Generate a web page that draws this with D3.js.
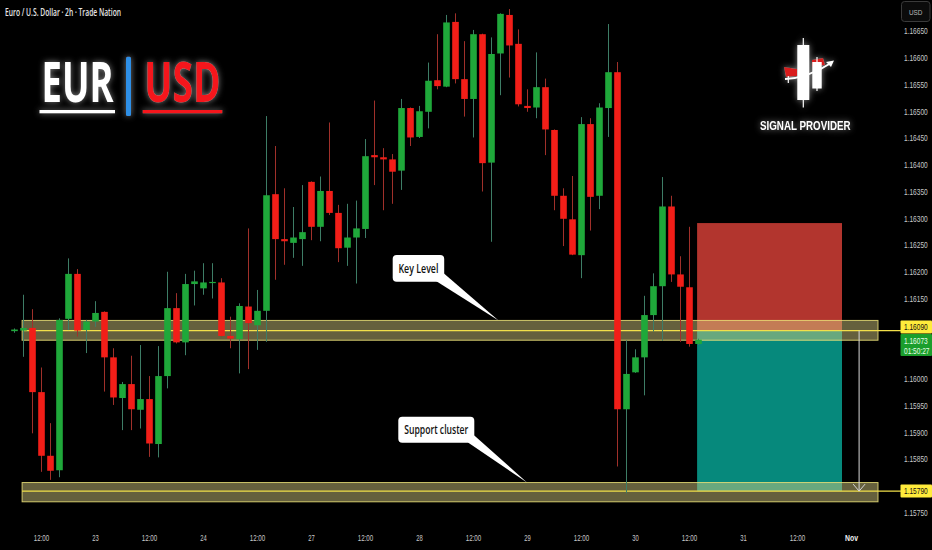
<!DOCTYPE html>
<html><head><meta charset="utf-8">
<script src="https://cdn.jsdelivr.net/npm/d3@7"></script>
<style>
html,body{margin:0;padding:0;background:#000;overflow:hidden;}
svg{display:block;}
</style></head><body>
<svg id="c" width="932" height="550"></svg>
<script>
// ---------- DATA ----------
const firstBar = -3; // bar index of first candle (0 = 22 Oct 12:00, 2h bars)
const opens = [1.16089,1.16090,1.16095,1.15975,1.15856,1.15829,1.16112,1.16196,1.16091,1.16107,1.16125,1.16040,1.15964,1.15990,1.15942,1.15962,1.15878,1.16005,1.16132,1.16068,1.16177,1.16169,1.16180,1.16180,1.16080,1.16074,1.16135,1.16100,1.16127,1.16345,1.16261,1.16254,1.16261,1.16368,1.16284,1.16351,1.16310,1.16245,1.16264,1.16280,1.16418,1.16414,1.16410,1.16389,1.16506,1.16452,1.16499,1.16558,1.16546,1.16667,1.16560,1.16523,1.16644,1.16404,1.16608,1.16680,1.16626,1.16510,1.16507,1.16545,1.16465,1.16342,1.16298,1.16231,1.16476,1.16342,1.16506,1.16573,1.15943,1.16012,1.16040,1.16119,1.16173,1.16322,1.16195,1.16171,1.16065];
const highs = [1.16094,1.16157,1.16130,1.16021,1.15917,1.16113,1.16225,1.16205,1.16110,1.16145,1.16126,1.16057,1.15994,1.16043,1.16063,1.16005,1.16061,1.16200,1.16160,1.16196,1.16202,1.16216,1.16216,1.16188,1.16116,1.16141,1.16281,1.16166,1.16491,1.16435,1.16356,1.16321,1.16362,1.16369,1.16378,1.16479,1.16325,1.16327,1.16333,1.16448,1.16520,1.16431,1.16420,1.16523,1.16507,1.16510,1.16591,1.16644,1.16680,1.16683,1.16631,1.16652,1.16645,1.16638,1.16683,1.16691,1.16653,1.16541,1.16610,1.16561,1.16466,1.16356,1.16379,1.16489,1.16487,1.16515,1.16663,1.16592,1.16072,1.16055,1.16155,1.16197,1.16377,1.16342,1.16229,1.16284,1.16075];
const lows = [1.16086,1.16041,1.15898,1.15826,1.15811,1.15816,1.16091,1.16079,1.16048,1.16097,1.15976,1.15951,1.15904,1.15904,1.15907,1.15854,1.15853,1.15982,1.16066,1.16044,1.16137,1.16157,1.16150,1.16079,1.16057,1.16010,1.16018,1.16054,1.16069,1.16185,1.16213,1.16226,1.16211,1.16259,1.16257,1.16306,1.16218,1.16211,1.16178,1.16263,1.16362,1.16315,1.16327,1.16353,1.16435,1.16450,1.16468,1.16541,1.16545,1.16552,1.16490,1.16451,1.16350,1.16256,1.16530,1.16563,1.16509,1.16499,1.16487,1.16418,1.16315,1.16248,1.16231,1.16188,1.16277,1.16317,1.16452,1.15836,1.15786,1.16011,1.15969,1.16088,1.16071,1.16181,1.16069,1.16060,1.16063];
const closes = [1.16092,1.16095,1.15975,1.15856,1.15828,1.16110,1.16196,1.16090,1.16107,1.16123,1.16040,1.15965,1.15990,1.15943,1.15962,1.15879,1.16005,1.16132,1.16068,1.16177,1.16182,1.16180,1.16181,1.16080,1.16075,1.16136,1.16104,1.16127,1.16343,1.16261,1.16257,1.16264,1.16274,1.16284,1.16351,1.16310,1.16244,1.16264,1.16281,1.16416,1.16414,1.16410,1.16387,1.16506,1.16451,1.16500,1.16557,1.16547,1.16666,1.16560,1.16523,1.16644,1.16403,1.16607,1.16682,1.16623,1.16513,1.16506,1.16545,1.16466,1.16342,1.16299,1.16232,1.16476,1.16340,1.16507,1.16573,1.15943,1.16009,1.16040,1.16119,1.16173,1.16322,1.16195,1.16172,1.16065,1.16073];

const tickBars = [0,6,12,18,24,30,36,42,48,54,60,66,72,78,84,90];
const tickLabels = ["12:00","23","12:00","24","12:00","27","12:00","28","12:00","29","12:00","30","12:00","31","12:00","Nov"];
const priceTicks = [1.1665,1.1660,1.1655,1.1650,1.1645,1.1640,1.1635,1.1630,1.1625,1.1620,1.1615,1.1600,1.1595,1.1590,1.1585,1.1575];

const keyLevel = 1.16090, keyZone = [1.16109, 1.16072];
const supportLevel = 1.15790, supportZone = [1.15806, 1.15770];
const zoneBars = [-2.1, 93];
const entryPrice = 1.16090, stopPrice = 1.16291, targetPrice = 1.15790;
const positionBars = [72.9, 89];
const arrowBar = 90.9;
const currentPrice = 1.16073, countdown = "01:50:27";
const title = "Euro / U.S. Dollar · 2h · Trade Nation";

// ---------- SCALES ----------
const svg = d3.select("#c");
const x = d3.scaleLinear().domain([0, 90]).range([41, 851]);
const y = d3.scaleLinear().domain([1.1665, 1.1575]).range([31, 512.5]);
const fmt = d3.format(".5f");
const bodyW = 6.6;
const UP = "#1fa83a", DOWN = "#f21e18", WUP = "#3d7d66", WDOWN = "#a0302a";
const AXFONT = "'Liberation Sans',Arial,sans-serif";

const defs = svg.append("defs");
const glow = defs.append("filter").attr("id","glow").attr("x","-40%").attr("y","-40%").attr("width","180%").attr("height","180%");
glow.append("feGaussianBlur").attr("in","SourceAlpha").attr("stdDeviation",3.2).attr("result","b");
glow.append("feFlood").attr("flood-color","#ffffff").attr("flood-opacity",0.5);
glow.append("feComposite").attr("in2","b").attr("operator","in").attr("result","g");
const fm = glow.append("feMerge"); fm.append("feMergeNode").attr("in","g"); fm.append("feMergeNode").attr("in","SourceGraphic");

svg.append("rect").attr("width",932).attr("height",550).attr("fill","#000");

// ---------- POSITION BOX ----------
const pb = svg.append("g");
pb.append("rect").attr("x", x(positionBars[0])).attr("width", x(positionBars[1]) - x(positionBars[0]))
  .attr("y", y(stopPrice)).attr("height", y(entryPrice) - y(stopPrice)).attr("fill", "#b2352e");
pb.append("rect").attr("x", x(positionBars[0])).attr("width", x(positionBars[1]) - x(positionBars[0]))
  .attr("y", y(entryPrice)).attr("height", y(targetPrice) - y(entryPrice)).attr("fill", "#06897c");

// ---------- ZONES ----------
function zone(level, z) {
  const g = svg.append("g");
  g.append("rect").attr("x", x(zoneBars[0])).attr("width", x(zoneBars[1]) - x(zoneBars[0]))
    .attr("y", y(z[0])).attr("height", y(z[1]) - y(z[0]))
    .attr("fill", "rgba(215,205,130,0.47)").attr("stroke", "rgba(235,225,120,0.85)").attr("stroke-width", 1);
  g.append("line").attr("x1", x(zoneBars[0])).attr("x2", 901).attr("y1", y(level)).attr("y2", y(level))
    .attr("stroke", "#f2e04a").attr("stroke-width", 1.4);
}
zone(keyLevel, keyZone);
zone(supportLevel, supportZone);

// arrow
const ax = x(arrowBar);
svg.append("line").attr("x1", ax).attr("x2", ax).attr("y1", y(entryPrice)).attr("y2", y(targetPrice))
  .attr("stroke", "#d8d8d8").attr("stroke-width", 1);
svg.append("path").attr("d", `M${ax-6},${y(targetPrice)-7}L${ax},${y(targetPrice)}L${ax+6},${y(targetPrice)-7}`)
  .attr("fill","none").attr("stroke","#d8d8d8").attr("stroke-width",1);

// ---------- CANDLES ----------
const candles = opens.map((o, k) => ({bar: firstBar + k, o, h: highs[k], l: lows[k], c: closes[k]}));
const cg = svg.append("g");
cg.selectAll("line.w").data(candles).join("line").attr("class","w")
  .attr("x1", d => Math.round(x(d.bar)) + 0.5).attr("x2", d => Math.round(x(d.bar)) + 0.5)
  .attr("y1", d => y(d.h)).attr("y2", d => y(d.l))
  .attr("stroke", d => d.c >= d.o ? WUP : WDOWN).attr("stroke-width", 1);
cg.selectAll("rect.b").data(candles).join("rect").attr("class","b")
  .attr("x", d => Math.round(x(d.bar)) + 0.5 - bodyW/2).attr("width", bodyW)
  .attr("y", d => y(Math.max(d.o, d.c)))
  .attr("height", d => Math.max(1.2, Math.abs(y(d.o) - y(d.c))))
  .attr("fill", d => d.c >= d.o ? UP : DOWN);

// ---------- CALLOUTS ----------
function callout(bx, by, bw, bh, tail, text, tl) {
  const g = svg.append("g");
  g.append("path").attr("d", `M${tail[0][0]},${tail[0][1]}L${tail[1][0]},${tail[1][1]}L${tail[2][0]},${tail[2][1]}Z`).attr("fill", "#fff");
  g.append("rect").attr("x", bx).attr("y", by).attr("width", bw).attr("height", bh).attr("rx", 4).attr("fill", "#fff");
  g.append("text").attr("x", bx + bw/2).attr("y", by + bh/2 + 4.5).attr("text-anchor","middle")
    .attr("font-family","'Open Sans','Liberation Sans Narrow',sans-serif").attr("font-weight",600).attr("font-size",12.5)
    .attr("textLength", tl).attr("lengthAdjust","spacingAndGlyphs").attr("fill","#111").text(text);
}
callout(392.7, 255, 51.5, 26.7, [[436,281],[444,273.5],[498.5, y(keyZone[0])]], "Key Level", 40);
callout(398.3, 416.7, 76, 26, [[468,442.5],[474.3,435.5],[527, y(supportZone[0])]], "Support cluster", 64);

// ---------- AXES ----------
const xAxis = d3.axisBottom(x).tickValues(tickBars).tickSize(0).tickPadding(0)
  .tickFormat((d, i) => tickLabels[i]);
const xg = svg.append("g").attr("transform","translate(0,535)").call(xAxis);
xg.select(".domain").remove();
xg.selectAll("text").attr("fill", (d,i) => tickLabels[i] === "Nov" ? "#f0f0f0" : "#c8c8c8")
  .attr("font-family", AXFONT)
  .attr("font-weight",(d,i) => tickLabels[i] === "Nov" ? 700 : 400)
  .attr("font-size", 9).attr("dy", "0.71em")
  .attr("textLength", (d,i) => tickLabels[i].length <= 2 ? 6.5 : (tickLabels[i] === "Nov" ? 13 : 15.5))
  .attr("lengthAdjust","spacingAndGlyphs");

const yAxis = d3.axisRight(y).tickValues(priceTicks).tickSize(0).tickPadding(0).tickFormat(fmt);
const yg = svg.append("g").attr("transform","translate(904,0)").call(yAxis);
yg.select(".domain").remove();
yg.selectAll("text").attr("fill","#c8c8c8").attr("font-family", AXFONT)
  .attr("font-size", 9).attr("transform","scale(0.73,1)");

// USD box
svg.append("rect").attr("x",901.5).attr("y",1.5).attr("width",28.5).attr("height",20).attr("rx",3)
  .attr("fill","#0b0b0b").attr("stroke","#3a3a3a");
svg.append("text").attr("transform","translate(915.7,15) scale(0.8,1)").attr("text-anchor","middle").attr("fill","#b8b8b8")
  .attr("font-family", AXFONT).attr("font-size",8).text("USD");

// price tags
function tag(y0, h, fill, lines, color) {
  svg.append("rect").attr("x", 900.5).attr("y", y0).attr("width", 31.5).attr("height", h).attr("fill", fill).attr("rx",1);
  lines.forEach((t, i) => svg.append("text")
    .attr("transform", `translate(904,${y0 + 9.5 + i * 10}) scale(0.73,1)`).attr("fill", color)
    .attr("font-family", AXFONT).attr("font-size", 9).text(t));
}
tag(y(keyLevel) - 10, 13, "#ffeb3b", [fmt(keyLevel)], "#111");
tag(y(keyLevel) + 3.5, 22, "#1b9e2c", [fmt(currentPrice), countdown], "#e8ffe8");
tag(y(supportLevel) - 6.5, 13, "#ffeb3b", [fmt(supportLevel)], "#111");

// ---------- TITLE & LOGOS ----------
svg.append("text").attr("x",5).attr("y",16).attr("fill","#e6e6e6")
  .attr("font-family","'Open Sans','Liberation Sans',sans-serif").attr("font-size",10).attr("font-weight",600)
  .attr("textLength",116).attr("lengthAdjust","spacingAndGlyphs").text(title);

const lg = svg.append("g").attr("filter","url(#glow)");
lg.append("text").attr("x",41.5).attr("y",101.7).attr("fill","#ffffff")
  .attr("font-family","'Open Sans','Liberation Sans',sans-serif").attr("font-weight",700).attr("font-size",55)
  .attr("textLength",72).attr("lengthAdjust","spacingAndGlyphs").text("EUR");
lg.append("rect").attr("x",39.5).attr("y",110).attr("width",75.5).attr("height",3.3).attr("fill","#ffffff");
lg.append("rect").attr("x",126).attr("y",56.7).attr("width",5).attr("height",59.3).attr("rx",1.5).attr("fill","#2f8fe6");
lg.append("text").attr("x",144.3).attr("y",101.7).attr("fill","#f5141a")
  .attr("font-family","'Open Sans','Liberation Sans',sans-serif").attr("font-weight",700).attr("font-size",55)
  .attr("textLength",76.4).attr("lengthAdjust","spacingAndGlyphs").text("USD");
lg.append("rect").attr("x",142.7).attr("y",110).attr("width",79.6).attr("height",3.3).attr("fill","#f5141a");

// signal provider mark
const sp = svg.append("g").attr("filter","url(#glow)");
sp.append("path").attr("d","M784,67 L797,69 L797,76 L786,77 Z").attr("fill","#d81e1e");
sp.append("path").attr("d","M812,60 L823,58 L825,65 L812,67 Z").attr("fill","#d81e1e");
sp.append("line").attr("x1",803.3).attr("x2",803.3).attr("y1",38).attr("y2",107.5).attr("stroke","#fff").attr("stroke-width",1.2);
sp.append("rect").attr("x",797.3).attr("y",45).attr("width",12).attr("height",55).attr("fill","#fff");
sp.append("line").attr("x1",817).attr("x2",817).attr("y1",57).attr("y2",91).attr("stroke","#fff").attr("stroke-width",1.2);
sp.append("rect").attr("x",812.3).attr("y",62).attr("width",9.4).attr("height",26.5).attr("fill","#fff");
sp.append("line").attr("x1",788.3).attr("x2",788.3).attr("y1",76).attr("y2",83).attr("stroke","#fff").attr("stroke-width",1.2);
sp.append("path").attr("d","M785,79 Q808,78 831,63").attr("fill","none").attr("stroke","#fff").attr("stroke-width",2);
sp.append("path").attr("d","M834,60.5 L826,62 L831,67 Z").attr("fill","#fff");
sp.append("text").attr("x",805.3).attr("y",130).attr("text-anchor","middle").attr("fill","#fff")
  .attr("font-family","'Liberation Sans','Roboto',sans-serif").attr("font-weight",700).attr("font-size",13)
  .attr("textLength",90.7).attr("lengthAdjust","spacingAndGlyphs").text("SIGNAL PROVIDER");
</script>
</body></html>
